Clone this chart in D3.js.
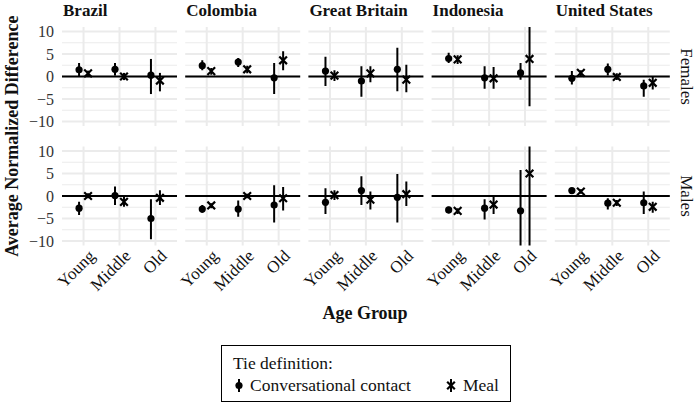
<!DOCTYPE html>
<html><head><meta charset="utf-8">
<script src="https://cdn.jsdelivr.net/npm/d3@7"></script>
</head>
<body style="margin:0;background:#fff"><svg id="c" width="696" height="403" style="display:block"></svg>
<script>
const countries = ["Brazil","Colombia","Great Britain","Indonesia","United States"];
const ages = ["Young","Middle","Old"];
const sexes = ["Females","Males"];
const yTicks = [-10,-5,0,5,10];
const yMinor = [-7.5,-2.5,2.5,7.5];
const tieTypes = ["Conversational contact","Meal"];
// values ordered country x age
const convFemEst = [1.5,1.6,0.3, 2.4,3.2,-0.3, 1.2,-1.0,1.6, 4.0,-0.3,0.8, -0.4,1.6,-2.1];
const convFemLo  = [0.1,0.2,-3.9, 1.4,2.1,-3.9, -2.1,-4.5,-3.3, 3.0,-2.7,-0.7, -1.8,0.2,-4.5];
const convFemHi  = [3.0,3.0,3.9, 3.6,4.1,3.0, 4.4,2.3,6.4, 5.3,2.3,3.0, 1.2,2.9,-0.7];
const mealFemEst = [0.7,0.0,-0.9, 1.2,1.6,3.6, 0.2,0.7,-0.7, 3.8,-0.4,3.9, 0.8,-0.1,-1.4];
const mealFemLo  = [0.0,-0.8,-3.3, 0.4,0.7,1.4, -1.0,-1.3,-3.5, 2.8,-2.7,-6.6, 0.1,-0.8,-2.9];
const mealFemHi  = [1.3,0.8,0.8, 1.9,2.4,5.6, 1.4,2.3,2.6, 4.7,2.1,11.5, 1.4,0.7,-0.1];
const convMalEst = [-2.7,0.1,-5.0, -2.9,-2.9,-2.0, -1.4,1.2,-0.3, -3.1,-2.7,-3.3, 1.2,-1.6,-1.5];
const convMalLo  = [-4.2,-2.0,-9.6, -3.7,-4.6,-5.9, -4.0,-2.0,-5.9, -3.9,-5.2,-13.0, 0.6,-3.0,-4.0];
const convMalHi  = [-1.3,2.1,-0.7, -2.0,-1.0,2.4, 1.7,4.4,4.9, -2.4,-0.7,5.8, 1.7,-0.5,1.0];
const mealMalEst = [0.0,-1.3,-0.4, -2.1,0.0,-0.5, 0.2,-0.8,0.4, -3.3,-1.9,5.0, 1.0,-1.5,-2.4];
const mealMalLo  = [-0.5,-2.4,-2.0, -2.7,-0.5,-3.2, -0.9,-3.0,-2.2, -4.0,-4.0,-12.0, 0.5,-2.2,-3.7];
const mealMalHi  = [0.6,-0.1,1.3, -1.6,0.5,2.0, 1.3,1.0,3.2, -2.7,0.0,11.5, 1.5,-0.9,-1.3];

const series = {
  Females: [{est:convFemEst,lo:convFemLo,hi:convFemHi},{est:mealFemEst,lo:mealFemLo,hi:mealFemHi}],
  Males:   [{est:convMalEst,lo:convMalLo,hi:convMalHi},{est:mealMalEst,lo:mealMalLo,hi:mealMalHi}]
};

const FONT = "'Liberation Serif'";
const svg = d3.select("#c");
function txt(sel){ return sel.append("text").style("font-family", FONT).attr("fill","#111"); }
const leftX = 62, panelW = 115, gapX = 8.2;
const topY = 27, panelH = 99, gapY = 20.5;
const grid = "#EBEBEB";

const colX = d3.scaleBand().domain(countries).range([leftX, leftX + 5*panelW + 4*gapX]).paddingInner(gapX/(panelW+gapX)).paddingOuter(0);
const rowY = d3.scaleBand().domain(sexes).range([topY, topY + 2*panelH + gapY]).paddingInner(gapY/(panelH+gapY)).paddingOuter(0);
const x = d3.scalePoint().domain(ages).range([0, panelW]).padding(0.6);
const y = d3.scaleLinear().domain([-11, 11]).range([panelH, 0]);
const dodge = x.step() * 0.125;

const defs = svg.append("defs");
defs.append("clipPath").attr("id","pclip").append("rect").attr("width",panelW).attr("height",panelH);

const symX = d3.symbol().type(d3.symbolX).size(40);

sexes.forEach((sex, ri) => {
  countries.forEach((ctry, ci) => {
    const g = svg.append("g").attr("transform", `translate(${colX(ctry)},${rowY(sex)})`);
    g.selectAll(".mn").data(yMinor).join("line")
      .attr("x1",0).attr("x2",panelW).attr("y1",d=>y(d)).attr("y2",d=>y(d))
      .attr("stroke",grid).attr("stroke-width",1.1);
    g.selectAll(".mj").data(yTicks).join("line")
      .attr("x1",0).attr("x2",panelW).attr("y1",d=>y(d)).attr("y2",d=>y(d))
      .attr("stroke",grid).attr("stroke-width",2);
    g.selectAll(".vx").data(ages).join("line")
      .attr("x1",d=>x(d)).attr("x2",d=>x(d)).attr("y1",0).attr("y2",panelH)
      .attr("stroke",grid).attr("stroke-width",2);
    g.append("line").attr("x1",0).attr("x2",panelW).attr("y1",y(0)).attr("y2",y(0))
      .attr("stroke","#000").attr("stroke-width",2);
    const pg = g.append("g").attr("clip-path","url(#pclip)");
    series[sex].forEach((s, si) => {
      const off = si === 0 ? -dodge : dodge;
      ages.forEach((a, ai) => {
        const k = ci*3 + ai;
        const cx = x(a) + off;
        pg.append("line").attr("x1",cx).attr("x2",cx)
          .attr("y1",y(s.lo[k])).attr("y2",y(s.hi[k]))
          .attr("stroke","#000").attr("stroke-width",2);
        if (si === 0) {
          pg.append("circle").attr("cx",cx).attr("cy",y(s.est[k])).attr("r",3.6).attr("fill","#000");
        } else {
          pg.append("path").attr("d",symX()).attr("transform",`translate(${cx},${y(s.est[k])})`)
            .attr("fill","none").attr("stroke","#000").attr("stroke-width",2.2);
        }
      });
    });
    if (ri === 0) {
      txt(svg).attr("x",colX(ctry)+1).attr("y",16)
        .attr("font-size",17).attr("font-weight","bold").text(ctry);
    }
    if (ri === 1) {
      ages.forEach(a => {
        txt(g).attr("transform",`translate(${x(a)+4},${panelH+3}) rotate(-45)`)
          .attr("text-anchor","end").attr("dy","0.7em")
          .attr("font-size",17).text(a);
      });
    }
  });
  const gy = svg.append("g").attr("transform",`translate(${leftX},${rowY(sex)})`);
  yTicks.forEach(d => {
    txt(gy).attr("x",-8).attr("y",y(d)).attr("dy","0.35em").attr("text-anchor","end")
      .attr("font-size",16).attr("fill","#333").text(d<0?"\u2212"+Math.abs(d):d);
  });
  const rx = 687, ry = rowY(sex) + panelH/2;
  txt(svg).attr("transform",`translate(${rx},${ry}) rotate(90)`)
    .attr("text-anchor","middle").attr("dy","0.35em").attr("font-size",17).text(sex);
});

txt(svg).attr("x",365).attr("y",319).attr("text-anchor","middle")
  .attr("font-size",18).attr("font-weight","bold").text("Age Group");
txt(svg).attr("transform",`translate(12,${topY + panelH + gapY/2}) rotate(-90)`)
  .attr("text-anchor","middle").attr("dy","0.35em")
  .attr("font-size",18).attr("font-weight","bold").text("Average Normalized Difference");

const lg = svg.append("g");
lg.append("rect").attr("x",221.5).attr("y",345.5).attr("width",289).attr("height",56)
  .attr("fill","#fff").attr("stroke","#000").attr("stroke-width",1);
txt(lg).attr("x",233).attr("y",369).attr("font-size",17.5).text("Tie definition:");
const items = [{x:239, tx:250},{x:451, tx:463}];
tieTypes.forEach((t, i) => {
  const it = items[i];
  lg.append("line").attr("x1",it.x).attr("x2",it.x).attr("y1",379).attr("y2",392)
    .attr("stroke","#000").attr("stroke-width",2);
  if (i === 0) lg.append("circle").attr("cx",it.x).attr("cy",385.5).attr("r",3.6).attr("fill","#000");
  else lg.append("path").attr("d",symX()).attr("transform",`translate(${it.x},385.5)`)
    .attr("fill","none").attr("stroke","#000").attr("stroke-width",2.2);
  txt(lg).attr("x",it.tx).attr("y",391).attr("font-size",17.5).text(t);
});
</script></body></html>
